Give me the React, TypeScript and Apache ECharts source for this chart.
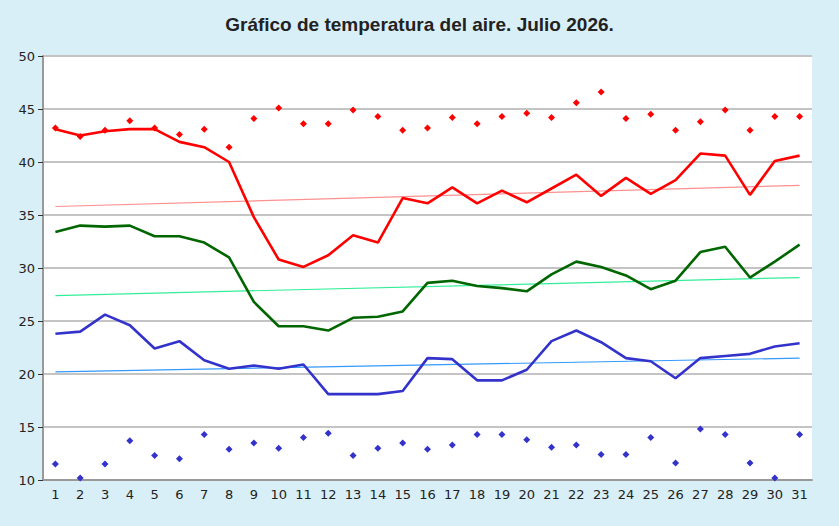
import { useEffect, useRef } from "react";
import * as echarts from "echarts";

const days = Array.from({ length: 31 }, (_, i) => String(i + 1));
const absMax = [43.2, 42.4, 43.0, 43.9, 43.2, 42.6, 43.1, 41.4, 44.1, 45.1, 43.6, 43.6, 44.9, 44.3, 43.0, 43.2, 44.2, 43.6, 44.3, 44.6, 44.2, 45.6, 46.6, 44.1, 44.5, 43.0, 43.8, 44.9, 43.0, 44.3, 44.3];
const maxTemp = [43.1, 42.5, 42.9, 43.1, 43.1, 41.9, 41.4, 40.0, 34.8, 30.8, 30.1, 31.2, 33.1, 32.4, 36.6, 36.1, 37.6, 36.1, 37.3, 36.2, 37.5, 38.8, 36.8, 38.5, 37.0, 38.3, 40.8, 40.6, 36.9, 40.1, 40.6];
const meanTemp = [33.4, 34.0, 33.9, 34.0, 33.0, 33.0, 32.4, 31.0, 26.8, 24.5, 24.5, 24.1, 25.3, 25.4, 25.9, 28.6, 28.8, 28.3, 28.1, 27.8, 29.4, 30.6, 30.1, 29.3, 28.0, 28.8, 31.5, 32.0, 29.1, 30.6, 32.2];
const minTemp = [23.8, 24.0, 25.6, 24.6, 22.4, 23.1, 21.3, 20.5, 20.8, 20.5, 20.9, 18.1, 18.1, 18.1, 18.4, 21.5, 21.4, 19.4, 19.4, 20.4, 23.1, 24.1, 23.0, 21.5, 21.2, 19.6, 21.5, 21.7, 21.9, 22.6, 22.9];
const absMin = [11.5, 10.2, 11.5, 13.7, 12.3, 12.0, 14.3, 12.9, 13.5, 13.0, 14.0, 14.4, 12.3, 13.0, 13.5, 12.9, 13.3, 14.3, 14.3, 13.8, 13.1, 13.3, 12.4, 12.4, 14.0, 11.6, 14.8, 14.3, 11.6, 10.2, 14.3];
// trend line endpoints (day 1, day 31)
const maxTrend = [35.8, 37.8];
const meanTrend = [27.4, 29.1];
const minTrend = [20.2, 21.5];

const trend = (ends: number[]) => days.map((_, i) => (i === 0 ? ends[0] : i === days.length - 1 ? ends[1] : null));

export default function App() {
  const ref = useRef<HTMLDivElement>(null);

  useEffect(() => {
    document.body.style.margin = "0";
    const chart = echarts.init(ref.current!, null, { renderer: "svg" });
    const line = (data: number[], color: string) => ({
      type: "line", data, symbol: "none", lineStyle: { color, width: 2.6 }, z: 3,
    });
    const tline = (ends: number[], color: string) => ({
      type: "line", data: trend(ends), connectNulls: true, symbol: "none", lineStyle: { color, width: 1.2 }, z: 2,
    });
    const dots = (data: number[], color: string) => ({
      type: "scatter", data, symbol: "diamond", symbolSize: 7, itemStyle: { color, opacity: 1 }, z: 4,
    });
    chart.setOption({
      animation: false,
      backgroundColor: "#d9eff7",
      title: {
        text: "Gráfico de temperatura del aire. Julio 2026.",
        left: "center", top: 10,
        textStyle: { fontFamily: "Liberation Sans", fontSize: 19, fontWeight: "bold", color: "#222" },
      },
      grid: { left: 43, right: 27, top: 56, bottom: 46, show: true, backgroundColor: "#fff", borderWidth: 0 },
      xAxis: {
        type: "category", data: days, boundaryGap: true,
        axisLine: { lineStyle: { color: "#999", width: 2 } },
        axisTick: { alignWithLabel: true, length: 6, lineStyle: { color: "#333" } },
        axisLabel: { color: "#222", fontSize: 13, fontFamily: "DejaVu Sans", margin: 8 },
      },
      yAxis: {
        type: "value", min: 10, max: 50, interval: 5,
        axisLine: { show: true, lineStyle: { color: "#999", width: 2 } },
        axisTick: { show: true, length: 5, lineStyle: { color: "#333" } },
        axisLabel: { color: "#222", fontSize: 13, fontFamily: "DejaVu Sans" },
        splitLine: { lineStyle: { color: "#c4c4c4", width: 2 } },
      },
      series: [
        tline(maxTrend, "#ff9090"),
        tline(meanTrend, "#33ee99"),
        tline(minTrend, "#3399ff"),
        line(maxTemp, "#ff0000"),
        line(meanTemp, "#006600"),
        line(minTemp, "#3333cc"),
        dots(absMax, "#ff0000"),
        dots(absMin, "#3333cc"),
      ],
    });
    return () => chart.dispose();
  }, []);

  return <div ref={ref} style={{ width: 839, height: 526 }} />;
}
